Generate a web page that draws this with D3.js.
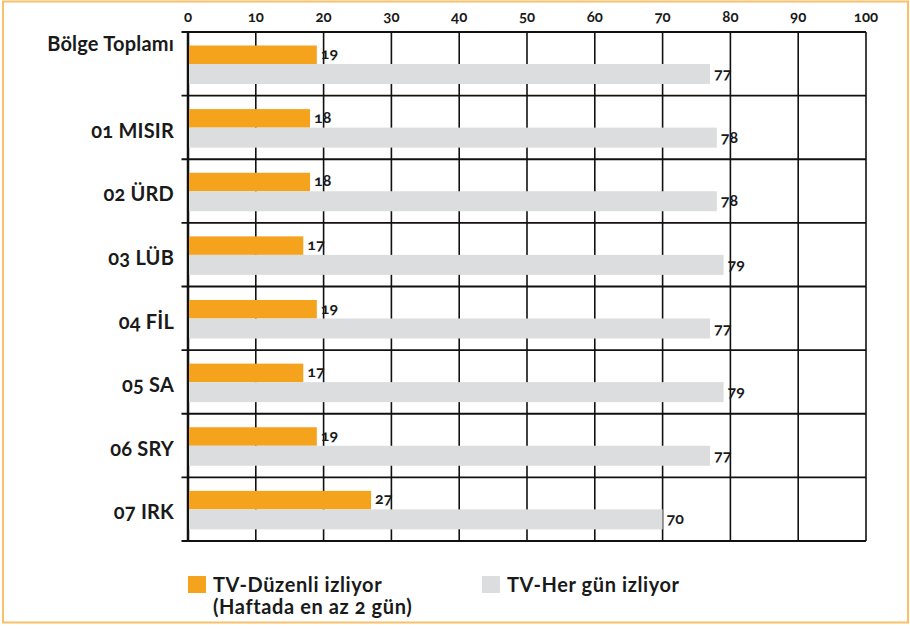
<!DOCTYPE html>
<html>
<head>
<meta charset="utf-8">
<script src="https://cdn.jsdelivr.net/npm/d3@7"></script>
<style>
  body { margin: 0; background: #fff; }
  svg text { font-family: Lato, "Open Sans", sans-serif; font-variant-numeric: oldstyle-nums; fill: #1a1a1a; }
</style>
</head>
<body>
<svg id="chart"></svg>
<script>
// chart data
var regions = ["Bölge Toplamı", "01 MISIR", "02 ÜRD", "03 LÜB", "04 FİL", "05 SA", "06 SRY", "07 IRK"];
var duzenli = [19, 18, 18, 17, 19, 17, 19, 27];   // TV-Düzenli izliyor
var hergun = [77, 78, 78, 79, 77, 79, 77, 70];    // TV-Her gün izliyor
var ticks = [0, 10, 20, 30, 40, 50, 60, 70, 80, 90, 100];
var legendLabels = [["TV-Düzenli izliyor", "(Haftada en az 2 gün)"], ["TV-Her gün izliyor"]];

var width = 910, height = 629;
var orange = "#f5a21d", grey = "#dcddde";

var svg = d3.select("#chart")
    .attr("width", width)
    .attr("height", height);

// outer frame
svg.append("rect")
    .attr("x", 3).attr("y", 1.5)
    .attr("width", 905).attr("height", 621)
    .attr("fill", "none")
    .attr("stroke", "#f8c068")
    .attr("stroke-width", 2);

var x = d3.scaleLinear().domain([0, 100]).range([188, 866]);
var y = d3.scaleBand().domain(regions).range([32, 541]).padding(0);

// grid: vertical lines
svg.append("g").selectAll("line.v")
  .data(ticks)
  .enter().append("line")
    .attr("x1", function(d) { return x(d); })
    .attr("x2", function(d) { return x(d); })
    .attr("y1", 32).attr("y2", 541)
    .attr("stroke", "#111")
    .attr("stroke-width", function(d) { return d == 0 ? 2.5 : 1.6; });

// grid: horizontal lines (row separators with small stub on the left)
var hLines = regions.map(function(r) { return y(r); }).concat([541]);
svg.append("g").selectAll("line.h")
  .data(hLines)
  .enter().append("line")
    .attr("x1", 181.5).attr("x2", 866)
    .attr("y1", function(d) { return d; })
    .attr("y2", function(d) { return d; })
    .attr("stroke", "#111")
    .attr("stroke-width", 1.8);

// top axis labels
svg.append("g").selectAll("text")
  .data(ticks)
  .enter().append("text")
    .attr("x", function(d) { return x(d); })
    .attr("y", 22)
    .attr("text-anchor", "middle")
    .style("font-size", "15px")
    .style("font-weight", 700)
    .text(function(d) { return d; });

// rows
var rows = svg.append("g").selectAll("g.row")
  .data(regions)
  .enter().append("g")
    .attr("transform", function(d) { return "translate(0," + y(d) + ")"; });

rows.append("rect")
    .attr("x", x(0) + 1)
    .attr("y", 13.5)
    .attr("width", function(d, i) { return x(duzenli[i]) - x(0) - 1; })
    .attr("height", 18.5)
    .attr("fill", orange);

rows.append("rect")
    .attr("x", x(0) + 1)
    .attr("y", 32)
    .attr("width", function(d, i) { return x(hergun[i]) - x(0) - 1; })
    .attr("height", 20)
    .attr("fill", grey);

rows.append("text")
    .attr("x", function(d, i) { return x(duzenli[i]) + 4; })
    .attr("y", 27)
    .style("font-size", "16px")
    .style("font-weight", 700)
    .text(function(d, i) { return duzenli[i]; });

rows.append("text")
    .attr("x", function(d, i) { return x(hergun[i]) + 4; })
    .attr("y", 47)
    .style("font-size", "16px")
    .style("font-weight", 700)
    .text(function(d, i) { return hergun[i]; });

// category labels
rows.append("text")
    .attr("x", 174)
    .attr("y", function(d, i) { return i == 0 ? 19 : 42; })
    .attr("text-anchor", "end")
    .style("font-size", "20px")
    .style("font-weight", 700)
    .style("letter-spacing", "0.2px")
    .text(function(d) { return d; });

// legend
var legend = svg.append("g").selectAll("g.leg")
  .data(legendLabels)
  .enter().append("g")
    .attr("transform", function(d, i) { return "translate(" + (i == 0 ? 188 : 482) + ",576)"; });

legend.append("rect")
    .attr("width", 18).attr("height", 17)
    .attr("fill", function(d, i) { return i == 0 ? orange : grey; });

legend.append("text")
    .attr("x", 25)
    .attr("y", 16)
    .style("font-size", "20px")
    .style("font-weight", 700)
    .style("letter-spacing", "0.6px")
    .selectAll("tspan")
    .data(function(d) { return d; })
    .enter().append("tspan")
      .attr("x", 25)
      .attr("dy", function(d, i) { return i == 0 ? 0 : 22; })
      .text(function(d) { return d; });
</script>
</body>
</html>
